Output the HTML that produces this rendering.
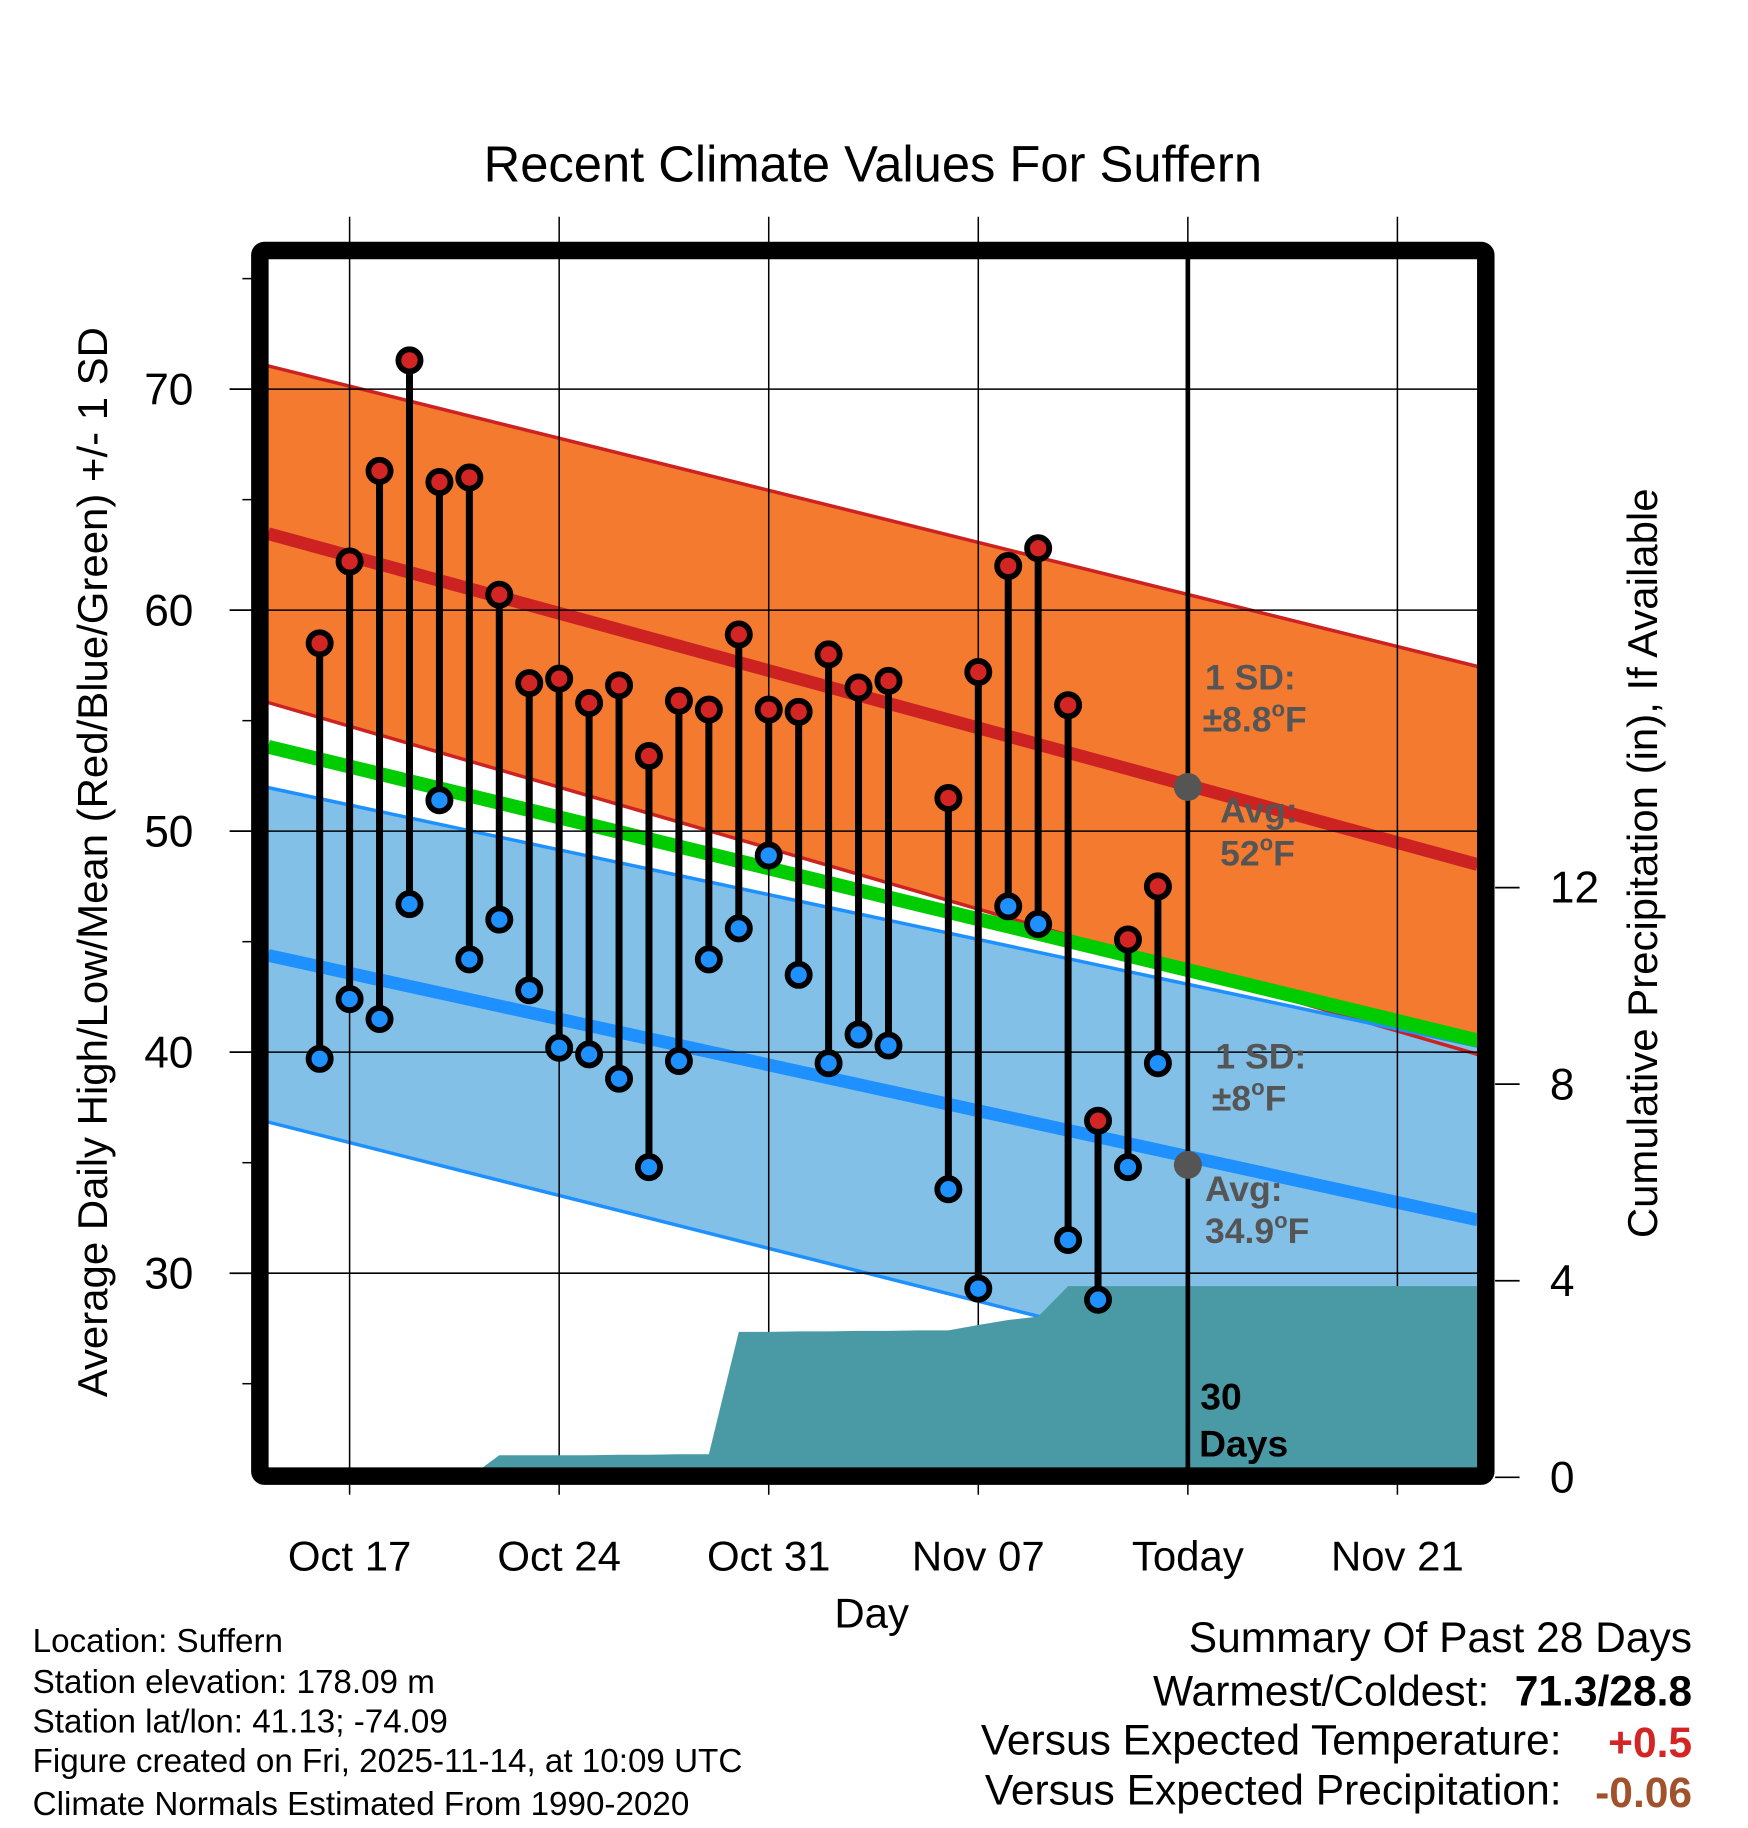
<!DOCTYPE html>
<html><head><meta charset="utf-8"><style>
html,body{margin:0;padding:0;background:#fff}
svg{display:block}
text{font-family:"Liberation Sans",Arial,sans-serif}
</style></head><body>
<svg id="chart" xmlns="http://www.w3.org/2000/svg" width="1748" height="1828" viewBox="0 0 1500 1569" preserveAspectRatio="none">
<defs><clipPath id="pc"><rect x="230" y="222" width="1038" height="1038"/></clipPath></defs>
<g id="plot" clip-path="url(#pc)"></g>
<g id="over"></g>
</svg>
<script>
// ---- data ----
const obsDays = [-1,0,1,2,3,4,5,6,7,8,9,10,11,12,13,14,15,16,17,18,20,21,22,23,24,25,26,27];
const highs = [58.5,62.2,66.3,71.3,65.8,66.0,60.7,56.7,56.9,55.8,56.6,53.4,55.9,55.5,58.9,55.5,55.4,58.0,56.5,56.8,51.5,57.2,62.0,62.8,55.7,36.9,45.1,47.5];
const lows  = [39.7,42.4,41.5,46.7,51.4,44.2,46.0,42.8,40.2,39.9,38.8,34.8,39.6,44.2,45.6,48.9,43.5,39.5,40.8,40.3,33.8,29.3,46.6,45.8,31.5,28.8,34.8,39.5];
const precipDays = [-3,-2,-1,0,1,2,3,4,5,6,7,8,9,10,11,12,13,14,15,16,17,18,19,20,21,22,23,24,25,26,27];
const precipCum  = [0,0,0,0,0,0,0,0,0.45,0.45,0.45,0.45,0.46,0.46,0.47,0.47,2.96,2.96,2.97,2.97,2.98,2.98,2.99,2.99,3.10,3.20,3.27,3.89,3.89,3.89,3.89];
const normDays = [-2.72,37.68];
const normHigh = [63.46,48.49];
const normHighUp = [71.05,57.45];
const normHighLo = [55.82,39.90];
const normMean = [53.82,40.53];
const normLow = [44.38,32.41];
const normLowUp = [51.97,40.27];
const normLowLo = [36.84,23.03];
const yTicks = [30,40,50,60,70];
const yMinor = [25,35,45,55,65,75];
const pTicks = [0,4,8,12];
const xTickDays = [0,7,14,21,28,35];
const xTickLabels = ["Oct 17","Oct 24","Oct 31","Nov 07","Today","Nov 21"];
const todayDay = 28;
// ---- axes ----
const X = d => 300 + d*25.69;
const Y = v => 334 + (70-v)*18.97;
const P = p => 1268 - p*42.18;
const NS="http://www.w3.org/2000/svg";
function mk(parent, tag, attrs, txt){const e=document.createElementNS(NS,tag);for(const k in attrs)e.setAttribute(k,attrs[k]);if(txt!==undefined)e.textContent=txt;parent.appendChild(e);return e;}
const plot=document.getElementById('plot'), over=document.getElementById('over');
function band(up,lo,fill,name){
  const pts=[[X(normDays[0]),Y(up[0])],[X(normDays[1]),Y(up[1])],[X(normDays[1]),Y(lo[1])],[X(normDays[0]),Y(lo[0])]];
  const e=mk(plot,'polygon',{points:pts.map(p=>p.join(',')).join(' '),fill:fill});
  
  
}
function line(arr,col,w,name){
  const e=mk(plot,'line',{x1:X(normDays[0]),y1:Y(arr[0]),x2:X(normDays[1]),y2:Y(arr[1]),stroke:col,'stroke-width':w});
  
  
}
band(normHighUp,normHighLo,'#f47a2f','high-sd-band');
band(normLowUp,normLowLo,'#82c0e8','low-sd-band');
line(normHighUp,'#cc2222',3,'high-upper-sd-line');
line(normHighLo,'#cc2222',3,'high-lower-sd-line');
line(normLowUp,'#1e90ff',3,'low-upper-sd-line');
line(normLowLo,'#1e90ff',3,'low-lower-sd-line');
line(normHigh,'#cc2222',11,'normal-high-line');
line(normLow,'#1e90ff',11,'normal-low-line');
line(normMean,'#00cc00',12,'normal-mean-line');
yTicks.forEach(v=>{const e=mk(plot,'line',{x1:230,x2:1268,y1:Y(v),y2:Y(v),stroke:'#000','stroke-width':1.3});
  
  });
xTickDays.forEach(d=>{const e=mk(over,'line',{x1:X(d),x2:X(d),y1:186,y2:1283,stroke:'#000','stroke-width':1.3});
  
  });
{
  let pts=[[230,P(0)]];
  precipDays.forEach((d,i)=>pts.push([X(d),P(precipCum[i])]));
  pts.push([1268,P(precipCum[precipCum.length-1])]);pts.push([1268,P(0)]);
  const e=mk(over,'polygon',{points:pts.map(p=>p.join(',')).join(' '),fill:'#4a9aa5','clip-path':'url(#pc)'});
  
  
}
obsDays.forEach((d,i)=>{
  const s=mk(over,'line',{x1:X(d),x2:X(d),y1:Y(highs[i]),y2:Y(lows[i]),stroke:'#000','stroke-width':6});
  
  
});
obsDays.forEach((d,i)=>{
  const h=mk(over,'circle',{cx:X(d),cy:Y(highs[i]),r:9.5,fill:'#d42525',stroke:'#000','stroke-width':5});
  
  
  const l=mk(over,'circle',{cx:X(d),cy:Y(lows[i]),r:9.5,fill:'#1e90ff',stroke:'#000','stroke-width':5});
  
  
});
{const e=mk(over,'line',{x1:X(todayDay),x2:X(todayDay),y1:222,y2:1262,stroke:'#000','stroke-width':4});
 
 }
{const a=mk(over,'circle',{cx:X(todayDay),cy:Y(52),r:12,fill:'#555'});
 
 
 const b=mk(over,'circle',{cx:X(todayDay),cy:Y(34.9),r:12,fill:'#555'});
 
 }
{const e=mk(over,'rect',{x:223,y:215,width:1052,height:1052,fill:'none',stroke:'#000','stroke-width':15,rx:4});
 
 }
yTicks.forEach(v=>{
  const t=mk(over,'line',{x1:197,x2:216,y1:Y(v),y2:Y(v),stroke:'#000','stroke-width':1.5});
  
  
  const l=mk(over,'text',{x:166,y:Y(v)+13,'font-size':38,'text-anchor':'end'},String(v));
  
  
});
yMinor.forEach(v=>{const t=mk(over,'line',{x1:208,x2:216,y1:Y(v),y2:Y(v),stroke:'#000','stroke-width':1.3});
  
  });
pTicks.forEach(p=>{
  const t=mk(over,'line',{x1:1283,x2:1304,y1:P(p),y2:P(p),stroke:'#000','stroke-width':1.5});
  
  
  const l=mk(over,'text',{x:1330,y:P(p)+13,'font-size':38},String(p));
  
  
});
xTickDays.forEach((d,i)=>{
  const l=mk(over,'text',{x:X(d),y:1348,'font-size':36,'text-anchor':'middle'},xTickLabels[i]);
  
  
});
</script>
<svg style="position:absolute;left:0;top:0" width="1748" height="1828" viewBox="0 0 1500 1569" preserveAspectRatio="none">
<text x="749" y="156" font-size="43.5" text-anchor="middle">Recent Climate Values For Suffern</text>
<text transform="translate(92,740) rotate(-90)" font-size="36" text-anchor="middle">Average Daily High/Low/Mean (Red/Blue/Green) +/- 1 SD</text>
<text transform="translate(1422,741) rotate(-90)" font-size="36" text-anchor="middle">Cumulative Precipitation (in), If Available</text>
<text x="748" y="1397" font-size="36" text-anchor="middle">Day</text>
<g font-weight="bold" font-size="30.5" fill="#555">
<text x="1034" y="592">1 SD:</text>
<text x="1032" y="628">±8.8<tspan font-size="19" dy="-13">o</tspan><tspan dy="13">F</tspan></text>
<text x="1047" y="706">Avg:</text>
<text x="1047" y="743">52<tspan font-size="19" dy="-13">o</tspan><tspan dy="13">F</tspan></text>
<text x="1043" y="917">1 SD:</text>
<text x="1040" y="953">±8<tspan font-size="19" dy="-13">o</tspan><tspan dy="13">F</tspan></text>
<text x="1034" y="1031">Avg:</text>
<text x="1034" y="1067">34.9<tspan font-size="19" dy="-13">o</tspan><tspan dy="13">F</tspan></text>
</g>
<g font-weight="bold" font-size="32" fill="#000">
<text x="1030" y="1210">30</text>
<text x="1029" y="1250">Days</text>
</g>
<g font-size="28.5" fill="#000">
<text x="28" y="1418">Location: Suffern</text>
<text x="28" y="1453">Station elevation: 178.09 m</text>
<text x="28" y="1487">Station lat/lon: 41.13; -74.09</text>
<text x="28" y="1521">Figure created on Fri, 2025-11-14, at 10:09 UTC</text>
<text x="28" y="1558">Climate Normals Estimated From 1990-2020</text>
</g>
<g font-size="36.5" fill="#000">
<text x="1452" y="1418" text-anchor="end">Summary Of Past 28 Days</text>
<text x="1278" y="1464" text-anchor="end">Warmest/Coldest:</text>
<text x="1452" y="1464" text-anchor="end" font-weight="bold">71.3/28.8</text>
<text x="1340" y="1506" text-anchor="end">Versus Expected Temperature:</text>
<text x="1452" y="1508" text-anchor="end" font-weight="bold" fill="#d42525">+0.5</text>
<text x="1340" y="1549" text-anchor="end">Versus Expected Precipitation:</text>
<text x="1452" y="1551" text-anchor="end" font-weight="bold" fill="#a0522d">-0.06</text>
</g>
</svg>
</body></html>
